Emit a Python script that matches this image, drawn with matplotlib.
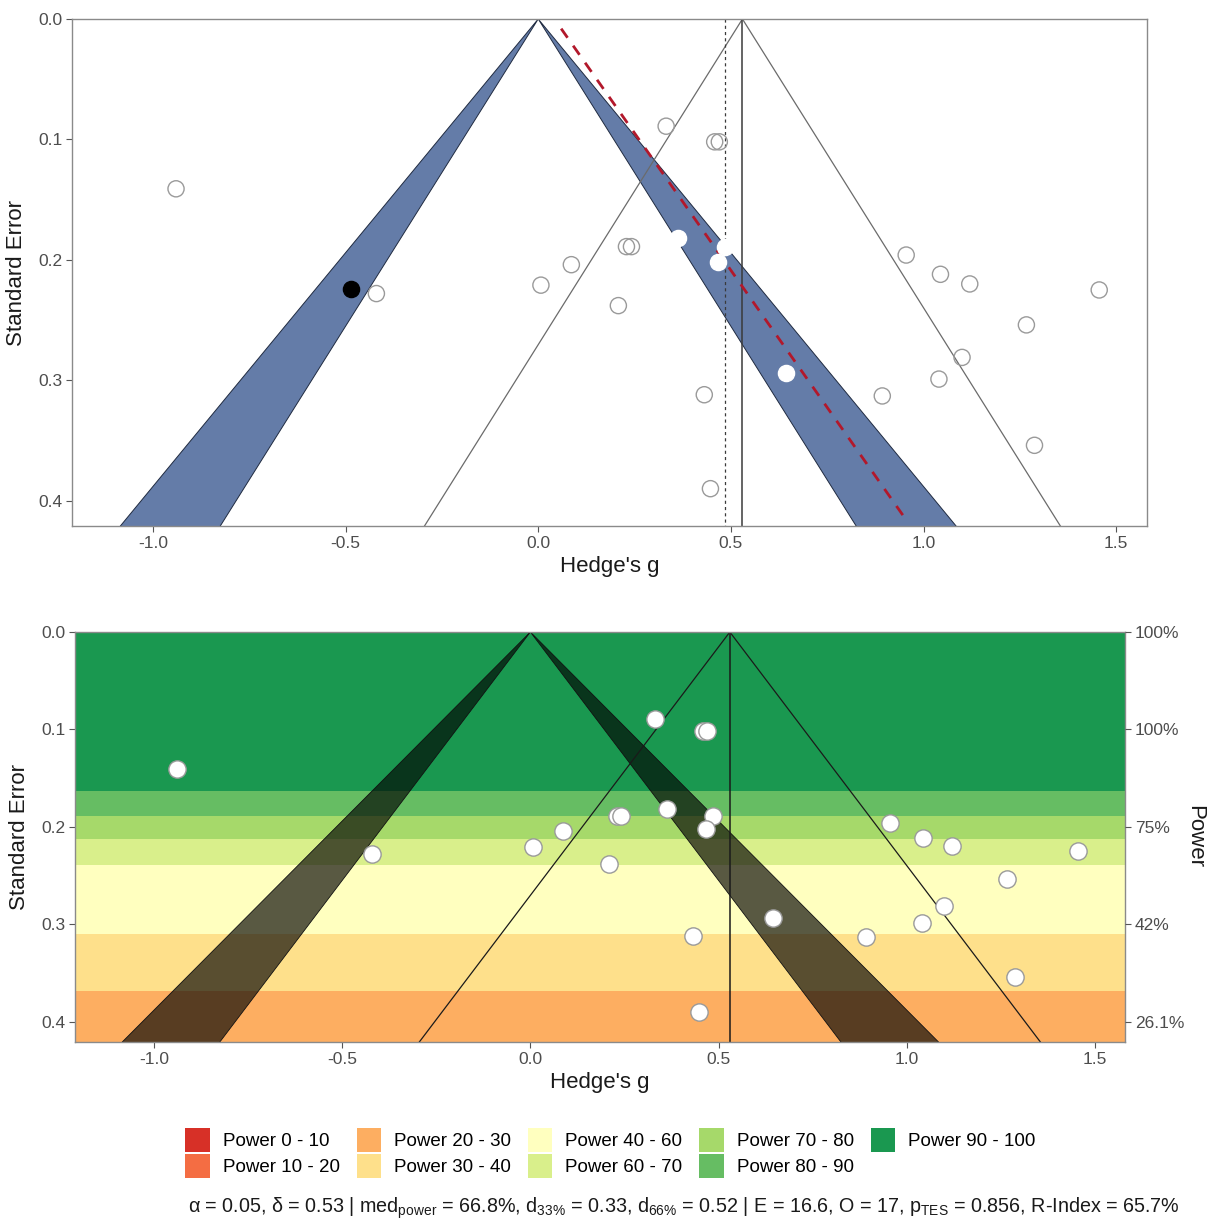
import matplotlib
matplotlib.use("Agg")
import matplotlib.pyplot as plt
from matplotlib.patches import Polygon, Patch
import numpy as np

plt.rcParams['font.family'] = ['Liberation Sans', 'DejaVu Sans']
plt.rcParams['mathtext.fontset'] = 'custom'
plt.rcParams['mathtext.rm'] = 'Liberation Sans'
plt.rcParams['mathtext.it'] = 'Liberation Sans:italic'
plt.rcParams['mathtext.bf'] = 'Liberation Sans:bold'

# ---------------- data ----------------
g_values = [-0.94, -0.485, -0.42, 0.007, 0.086, 0.332, 0.458, 0.470, 0.229, 0.242,
            0.363, 0.485, 0.467, 0.955, 1.044, 1.120, 1.456, 0.208, 1.267, 1.100,
            0.644, 1.040, 0.893, 0.431, 1.288, 0.447]
se_values = [0.141, 0.2245, 0.228, 0.221, 0.204, 0.089, 0.102, 0.102, 0.189, 0.189,
             0.182, 0.189, 0.202, 0.196, 0.212, 0.220, 0.225, 0.238, 0.254, 0.281,
             0.294, 0.299, 0.313, 0.312, 0.354, 0.390]
study_flag = ['open', 'neg', 'open', 'open', 'open', 'open', 'open', 'open', 'open', 'open',
              'sig', 'sig', 'sig', 'open', 'open', 'open', 'open', 'open', 'open', 'open',
              'sig', 'open', 'open', 'open', 'open', 'open']

pooled_effect = 0.53          # delta (solid vertical line, funnel centre)
dotted_effect = 0.485         # dotted vertical line
sig_z = [1.96, 2.576]         # significance band (p .05 - .01)
funnel_z = 1.96
pet_intercept = 0.042
pet_slope = 2.195
pet_se_range = [0.008, 0.415]

xticks = [-1.0, -0.5, 0.0, 0.5, 1.0, 1.5]
yticks = [0.0, 0.1, 0.2, 0.3, 0.4]
power_ticklabels = ['100%', '100%', '75%', '42%', '26.1%']

# power bands by standard error
band_edges = [0.0, 0.163, 0.189, 0.213, 0.239, 0.310, 0.369, 0.50]
band_labels = ['Power 90 - 100', 'Power 80 - 90', 'Power 70 - 80', 'Power 60 - 70',
               'Power 40 - 60', 'Power 30 - 40', 'Power 20 - 30']
legend_labels = ['Power 0 - 10', 'Power 10 - 20', 'Power 20 - 30', 'Power 30 - 40',
                 'Power 40 - 60', 'Power 60 - 70', 'Power 70 - 80', 'Power 80 - 90',
                 'Power 90 - 100']
power_colors = {
    'Power 0 - 10': '#d73027', 'Power 10 - 20': '#f46d43', 'Power 20 - 30': '#fdae61',
    'Power 30 - 40': '#fee08b', 'Power 40 - 60': '#ffffbf', 'Power 60 - 70': '#d9ef8b',
    'Power 70 - 80': '#a6d96a', 'Power 80 - 90': '#66bd63', 'Power 90 - 100': '#1a9850',
}

caption = ("α = 0.05, δ = 0.53 | med$_{\\mathrm{power}}$ = 66.8%, "
           "d$_{\\mathrm{33\\%}}$ = 0.33, d$_{\\mathrm{66\\%}}$ = 0.52 | E = 16.6, O = 17, "
           "p$_{\\mathrm{TES}}$ = 0.856, R-Index = 65.7%")

# ---------------- figure ----------------
W, H = 1209, 1221
fig = plt.figure(figsize=(W / 100, H / 100), dpi=100)
ax1 = fig.add_axes([72 / W, 1 - 526 / H, (1147 - 72) / W, (526 - 19) / H])
ax2 = fig.add_axes([75 / W, 1 - 1042 / H, (1125 - 75) / W, (1042 - 632) / H])

XLIM = (-1.21, 1.58)
YLIM = (0.421, 0.0)
SE_FAR = 0.6

g = np.array(g_values)
se = np.array(se_values)
flags = np.array(study_flag)


def style_axes(ax):
    ax.set_xlim(*XLIM)
    ax.set_ylim(*YLIM)
    ax.set_xticks(xticks)
    ax.set_xticklabels([f"{t:.1f}" for t in xticks])
    ax.set_yticks(yticks)
    ax.set_yticklabels([f"{t:.1f}" for t in yticks])
    ax.tick_params(direction='out', length=4, width=0.8, color='#555555',
                   labelcolor='#4d4d4d', labelsize=12.5, pad=3)
    for s in ax.spines.values():
        s.set_color('#8a8a8a')
        s.set_linewidth(1.0)
    ax.set_xlabel("Hedge's g", fontsize=16, color='#1a1a1a', labelpad=4)
    ax.set_ylabel("Standard Error", fontsize=16, color='#1a1a1a', labelpad=8)


def band_polys(sign):
    z1, z2 = sig_z
    return [(0, 0), (sign * z1 * SE_FAR, SE_FAR), (sign * z2 * SE_FAR, SE_FAR)]


# ---------- top panel ----------
ax = ax1
for sign in (-1, 1):
    ax.add_patch(Polygon(band_polys(sign), closed=True, facecolor='#647ca8',
                         edgecolor='#1f2a40', linewidth=0.7, zorder=1))
ax.plot([pooled_effect - funnel_z * SE_FAR, pooled_effect, pooled_effect + funnel_z * SE_FAR],
        [SE_FAR, 0, SE_FAR], color='#6b6b6b', lw=0.9, zorder=2)
ax.plot([pooled_effect, pooled_effect], [0, SE_FAR], color='#3a3a3a', lw=1.1, zorder=2)
ax.plot([dotted_effect, dotted_effect], [0, SE_FAR], color='#3a3a3a', lw=0.9,
        linestyle=(0, (2.5, 2.5)), zorder=2)
pet_se = np.array(pet_se_range)
ax.plot(pet_intercept + pet_slope * pet_se, pet_se, color='#b2182b', lw=2.0,
        linestyle=(0, (4, 3.5)), zorder=3)

m = flags == 'open'
ax.scatter(g[m], se[m], s=135, facecolor='none', edgecolor='#9a9a9a', linewidth=1.0, zorder=4)
m = flags == 'sig'
ax.scatter(g[m], se[m], s=135, facecolor='white', edgecolor='white', linewidth=1.0, zorder=4)
m = flags == 'neg'
ax.scatter(g[m], se[m], s=135, facecolor='black', edgecolor='black', linewidth=1.0, zorder=4)
style_axes(ax)

# ---------- bottom panel ----------
ax = ax2
for i, lab in enumerate(band_labels):
    ax.axhspan(band_edges[i], band_edges[i + 1], color=power_colors[lab], lw=0, zorder=0)
for sign in (-1, 1):
    ax.add_patch(Polygon(band_polys(sign), closed=True, facecolor='black', alpha=0.65,
                         edgecolor='none', zorder=1))
    ax.add_patch(Polygon(band_polys(sign), closed=True, facecolor='none',
                         edgecolor='#111111', linewidth=0.6, zorder=1))
ax.plot([pooled_effect - funnel_z * SE_FAR, pooled_effect, pooled_effect + funnel_z * SE_FAR],
        [SE_FAR, 0, SE_FAR], color='#1a1a1a', lw=0.9, zorder=2)
ax.plot([pooled_effect, pooled_effect], [0, SE_FAR], color='#1a1a1a', lw=1.1, zorder=2)
m = flags != 'neg'
ax.scatter(g[m], se[m], s=155, facecolor='white', edgecolor='#9a9a9a', linewidth=1.0, zorder=4)
style_axes(ax)

axr = ax.twinx()
axr.set_ylim(*YLIM)
axr.set_yticks(yticks)
axr.set_yticklabels(power_ticklabels)
axr.tick_params(direction='out', length=4, width=0.8, color='#555555',
                labelcolor='#4d4d4d', labelsize=12.5, pad=3)
for s in axr.spines.values():
    s.set_visible(False)
axr.set_ylabel('Power', fontsize=16, color='#1a1a1a', rotation=270, va='center')
axr.yaxis.set_label_coords((1195 - 75) / 1050, 0.5)

# ---------- legend ----------
handles = [Patch(facecolor=power_colors[l], edgecolor='none') for l in legend_labels]
fig.legend(handles, legend_labels, ncol=5, loc='center',
           bbox_to_anchor=(0.505, 1 - 1153 / H), frameon=False, fontsize=13.5,
           handlelength=1.3, handleheight=1.55, handletextpad=0.7,
           columnspacing=0.9, labelspacing=0.12, borderaxespad=0)

fig.text(0.566, 1 - 1208 / H, caption, ha='center', va='center', fontsize=14.2, color='#1a1a1a')

fig.savefig('out.png', dpi=100)
